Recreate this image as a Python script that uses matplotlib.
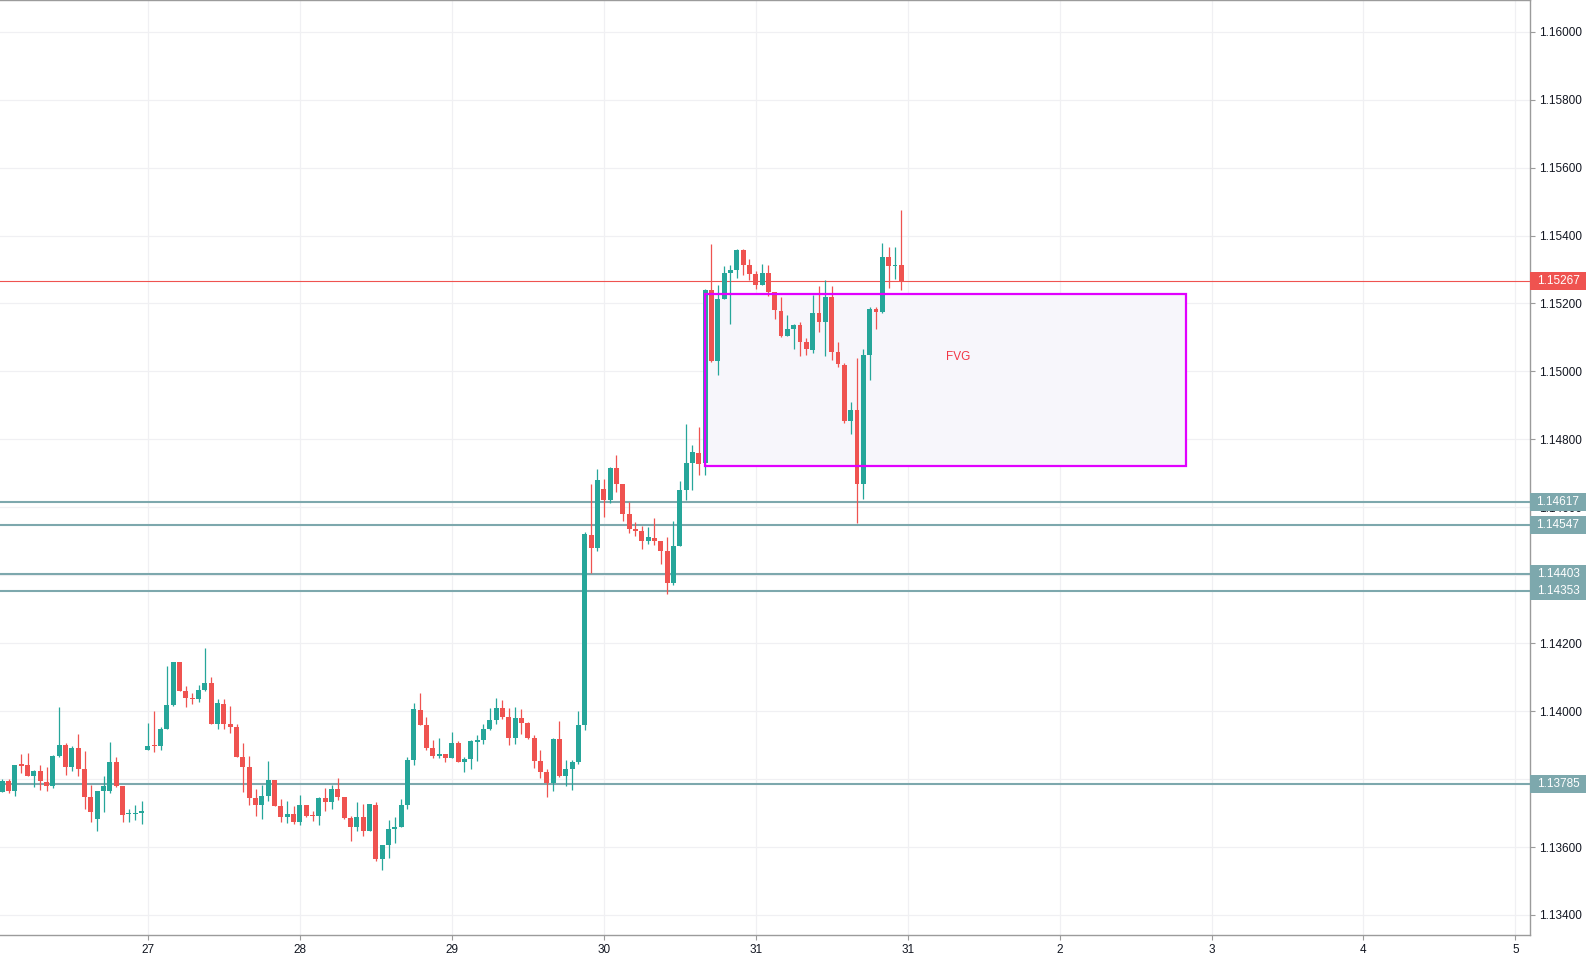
import matplotlib
matplotlib.use("Agg")
import matplotlib.pyplot as plt
from matplotlib.patches import Rectangle

# ---------------- data ----------------
opens = [1.13763, 1.13795, 1.13766, 1.13842, 1.13842, 1.13810, 1.13824, 1.13791, 1.13781, 1.13868,
         1.13901, 1.13837, 1.13893, 1.13831, 1.13748, 1.13684, 1.13766, 1.13766, 1.13849, 1.13781,
         1.13698, 1.13698, 1.13701, 1.13887, 1.13898, 1.13896, 1.13948, 1.14018, 1.14145, 1.14058,
         1.14039, 1.14037, 1.14062, 1.14083, 1.13963, 1.14021, 1.13962, 1.13954, 1.13866, 1.13837,
         1.13743, 1.13725, 1.13750, 1.13797, 1.13722, 1.13687, 1.13697, 1.13675, 1.13724, 1.13692,
         1.13692, 1.13744, 1.13734, 1.13771, 1.13747, 1.13686, 1.13660, 1.13689, 1.13648, 1.13724,
         1.13566, 1.13606, 1.13654, 1.13660, 1.13724, 1.13856, 1.14003, 1.13959, 1.13891, 1.13868,
         1.13874, 1.13862, 1.13906, 1.13850, 1.13859, 1.13909, 1.13915, 1.13947, 1.13974, 1.14009,
         1.13983, 1.13921, 1.13980, 1.13965, 1.13921, 1.13853, 1.13821, 1.13788, 1.13918, 1.13809,
         1.13830, 1.13850, 1.13959, 1.14519, 1.14481, 1.14654, 1.14622, 1.14716, 1.14669, 1.14580,
         1.14536, 1.14530, 1.14502, 1.14510, 1.14501, 1.14471, 1.14378, 1.14486, 1.14651, 1.14730,
         1.14760, 1.14730, 1.15240, 1.15031, 1.15214, 1.15290, 1.15299, 1.15358, 1.15314, 1.15287,
         1.15255, 1.15290, 1.15234, 1.15178, 1.15105, 1.15125, 1.15137, 1.15087, 1.15064, 1.15172,
         1.15146, 1.15220, 1.15058, 1.15019, 1.14855, 1.14887, 1.14669, 1.15049, 1.15184, 1.15175,
         1.15337, 1.15310, 1.15313]
highs = [1.13800, 1.13800, 1.13842, 1.13874, 1.13877, 1.13827, 1.13842, 1.13837, 1.13870, 1.14012,
         1.13905, 1.13896, 1.13933, 1.13884, 1.13784, 1.13766, 1.13810, 1.13910, 1.13866, 1.13781,
         1.13712, 1.13725, 1.13736, 1.13966, 1.14001, 1.13953, 1.14134, 1.14145, 1.14145, 1.14075,
         1.14053, 1.14077, 1.14187, 1.14100, 1.14036, 1.14036, 1.14015, 1.13963, 1.13907, 1.13868,
         1.13771, 1.13784, 1.13853, 1.13797, 1.13740, 1.13736, 1.13722, 1.13753, 1.13724, 1.13706,
         1.13747, 1.13775, 1.13784, 1.13804, 1.13747, 1.13692, 1.13733, 1.13726, 1.13727, 1.13733,
         1.13606, 1.13680, 1.13689, 1.13741, 1.13865, 1.14024, 1.14053, 1.13983, 1.13915, 1.13921,
         1.13874, 1.13939, 1.13912, 1.13865, 1.13915, 1.13930, 1.13962, 1.14009, 1.14039, 1.14033,
         1.14009, 1.14012, 1.14006, 1.13968, 1.13930, 1.13886, 1.13830, 1.13921, 1.13971, 1.13856,
         1.13856, 1.14000, 1.14527, 1.14669, 1.14713, 1.14683, 1.14719, 1.14754, 1.14669, 1.14616,
         1.14556, 1.14545, 1.14542, 1.14569, 1.14501, 1.14513, 1.14560, 1.14677, 1.14845, 1.14783,
         1.14836, 1.15243, 1.15376, 1.15255, 1.15311, 1.15314, 1.15361, 1.15361, 1.15331, 1.15296,
         1.15317, 1.15314, 1.15234, 1.15220, 1.15167, 1.15140, 1.15146, 1.15099, 1.15225, 1.15252,
         1.15270, 1.15252, 1.15087, 1.15025, 1.14910, 1.15040, 1.15066, 1.15190, 1.15190, 1.15378,
         1.15366, 1.15366, 1.15475]
lows = [1.13761, 1.13758, 1.13751, 1.13819, 1.13810, 1.13778, 1.13769, 1.13766, 1.13775, 1.13866,
        1.13813, 1.13825, 1.13810, 1.13712, 1.13675, 1.13648, 1.13704, 1.13760, 1.13778, 1.13675,
        1.13675, 1.13680, 1.13669, 1.13887, 1.13881, 1.13887, 1.13948, 1.14015, 1.14058, 1.14013,
        1.14022, 1.14028, 1.14058, 1.13963, 1.13948, 1.13948, 1.13937, 1.13866, 1.13763, 1.13725,
        1.13690, 1.13684, 1.13737, 1.13722, 1.13675, 1.13672, 1.13669, 1.13665, 1.13689, 1.13678,
        1.13666, 1.13707, 1.13713, 1.13739, 1.13683, 1.13619, 1.13648, 1.13633, 1.13648, 1.13559,
        1.13532, 1.13569, 1.13611, 1.13660, 1.13713, 1.13842, 1.13959, 1.13885, 1.13862, 1.13862,
        1.13850, 1.13862, 1.13850, 1.13821, 1.13830, 1.13853, 1.13903, 1.13944, 1.13962, 1.13977,
        1.13900, 1.13903, 1.13933, 1.13918, 1.13833, 1.13803, 1.13747, 1.13765, 1.13806, 1.13780,
        1.13768, 1.13844, 1.13945, 1.14406, 1.14470, 1.14572, 1.14614, 1.14646, 1.14561, 1.14525,
        1.14517, 1.14477, 1.14492, 1.14489, 1.14433, 1.14346, 1.14372, 1.14486, 1.14622, 1.14651,
        1.14695, 1.14696, 1.15028, 1.14990, 1.15214, 1.15140, 1.15275, 1.15284, 1.15270, 1.15243,
        1.15255, 1.15222, 1.15155, 1.15102, 1.15105, 1.15066, 1.15046, 1.15049, 1.15055, 1.15117,
        1.15046, 1.15034, 1.15013, 1.14849, 1.14816, 1.14555, 1.14625, 1.14975, 1.15125, 1.15172,
        1.15246, 1.15272, 1.15240]
closes = [1.13795, 1.13766, 1.13842, 1.13840, 1.13810, 1.13825, 1.13793, 1.13781, 1.13868, 1.13901,
          1.13837, 1.13893, 1.13831, 1.13748, 1.13704, 1.13766, 1.13781, 1.13849, 1.13781, 1.13695,
          1.13701, 1.13701, 1.13706, 1.13898, 1.13896, 1.13948, 1.14018, 1.14145, 1.14058, 1.14040,
          1.14037, 1.14062, 1.14083, 1.13963, 1.14024, 1.13963, 1.13954, 1.13866, 1.13837, 1.13743,
          1.13725, 1.13750, 1.13797, 1.13722, 1.13687, 1.13697, 1.13675, 1.13724, 1.13692, 1.13690,
          1.13744, 1.13734, 1.13771, 1.13747, 1.13686, 1.13660, 1.13689, 1.13648, 1.13727, 1.13566,
          1.13606, 1.13653, 1.13660, 1.13724, 1.13856, 1.14006, 1.13959, 1.13891, 1.13868, 1.13874,
          1.13862, 1.13906, 1.13850, 1.13859, 1.13912, 1.13915, 1.13947, 1.13974, 1.14009, 1.13983,
          1.13921, 1.13980, 1.13965, 1.13921, 1.13853, 1.13821, 1.13788, 1.13918, 1.13809, 1.13830,
          1.13850, 1.13959, 1.14522, 1.14481, 1.14680, 1.14622, 1.14716, 1.14669, 1.14581, 1.14537,
          1.14531, 1.14502, 1.14513, 1.14502, 1.14470, 1.14378, 1.14486, 1.14651, 1.14730, 1.14763,
          1.14728, 1.15240, 1.15031, 1.15214, 1.15290, 1.15299, 1.15358, 1.15314, 1.15287, 1.15255,
          1.15290, 1.15234, 1.15181, 1.15105, 1.15125, 1.15137, 1.15087, 1.15066, 1.15172, 1.15146,
          1.15220, 1.15058, 1.15022, 1.14855, 1.14887, 1.14669, 1.15049, 1.15184, 1.15175, 1.15337,
          1.15310, 1.15313, 1.15267]

day_bar_index = [23, 47, 71, 95, 119, 143, 167, 191, 215, 239]
day_labels = ["27", "28", "29", "30", "31", "31", "2", "3", "4", "5"]

y_ticks = [1.134, 1.136, 1.138, 1.140, 1.142, 1.144, 1.146, 1.148,
           1.150, 1.152, 1.154, 1.156, 1.158, 1.160]

support_levels = [1.14617, 1.14547, 1.14403, 1.14353, 1.13785]
last_price = 1.15267

fvg_start_bar = 111
fvg_end_bar = 187
fvg_top = 1.15228
fvg_bottom = 1.14723
fvg_label = "FVG"
fvg_label_bar = 151
fvg_label_price = 1.15043

# ---------------- style ----------------
UP = "#26A69A"
DOWN = "#EF5350"
LEVEL = "#7DA8AD"
GRID = "#F0F0F3"
AXIS = "#9B9B9B"
TEXT = "#131722"
FONT = "Liberation Sans"

W, H = 1586, 959
fig = plt.figure(figsize=(W / 100, H / 100), dpi=100)
fig.patch.set_facecolor("white")
ax_l, ax_b, ax_w, ax_h = 0, 24 / H, 1530 / W, 935 / H
ax = fig.add_axes([ax_l, ax_b, ax_w, ax_h])
ax.set_facecolor("white")

ax.set_xlim(-0.364, 241.3)
ax.set_ylim(1.133411, 1.160933)

# grid
for yt in y_ticks:
    ax.axhline(yt, color=GRID, lw=0.9, zorder=0)
for xt in day_bar_index:
    ax.axvline(xt, color=GRID, lw=0.9, zorder=0)

# FVG box
ax.add_patch(Rectangle((fvg_start_bar, fvg_bottom), fvg_end_bar - fvg_start_bar,
                       fvg_top - fvg_bottom, facecolor="#F7F6FB", edgecolor="none", zorder=1))

# level lines
for lv in support_levels:
    ax.axhline(lv, color=LEVEL, lw=1.5, zorder=2)
ax.axhline(last_price, color=DOWN, lw=0.8, zorder=2)

# candles
n = len(opens)
xs = list(range(n))
min_body = 0.00003
for i in xs:
    o, h, l, c = opens[i], highs[i], lows[i], closes[i]
    col = UP if c >= o else DOWN
    ax.vlines(i, l, h, color=col, lw=0.9, zorder=3)
    bottom = min(o, c)
    height = max(abs(c - o), min_body)
    ax.bar(i, height, bottom=bottom, width=0.78, color=col, edgecolor=col, lw=0, zorder=4)

# FVG border (on top of candles)
ax.add_patch(Rectangle((fvg_start_bar, fvg_bottom), fvg_end_bar - fvg_start_bar,
                       fvg_top - fvg_bottom, facecolor="none", edgecolor="#E100FF",
                       lw=1.6, zorder=5))
ax.text(fvg_label_bar, fvg_label_price, fvg_label, color="#F23645", fontsize=8.5,
        family=FONT, ha="center", va="center", zorder=6)

# axes styling
for side in ["left"]:
    ax.spines[side].set_visible(False)
for side in ["top", "right", "bottom"]:
    ax.spines[side].set_color(AXIS)
    ax.spines[side].set_linewidth(1.0)

ax.yaxis.tick_right()
ax.set_yticks(y_ticks)
ax.set_yticklabels([f"{v:.5f}" for v in y_ticks])
ax.set_xticks(day_bar_index)
ax.set_xticklabels(day_labels)
ax.tick_params(axis="y", which="both", direction="out", length=3.5, width=0.8,
               color=AXIS, pad=3, labelsize=8.5, labelcolor=TEXT)
ax.tick_params(axis="x", which="both", direction="out", length=3.5, width=0.8,
               color=AXIS, pad=3, labelsize=8.5, labelcolor=TEXT)
for lab in ax.get_yticklabels() + ax.get_xticklabels():
    lab.set_family(FONT)

# price label boxes on the right axis
fig.canvas.draw()
def add_price_box(price, color):
    ydisp = ax.transData.transform((0, price))[1]
    box_h = 18
    fig.patches.append(Rectangle((1530 / W, (ydisp - box_h / 2) / H), 56 / W, box_h / H,
                                 transform=fig.transFigure, facecolor=color,
                                 edgecolor="none", zorder=5))
    fig.text(1558 / W, ydisp / H, f"{price:.5f}", color="white", fontsize=8.5,
             family=FONT, ha="center", va="center", zorder=6)

for lv in support_levels:
    add_price_box(lv, LEVEL)
add_price_box(last_price, DOWN)

fig.savefig("out.png", dpi=100, facecolor="white")
